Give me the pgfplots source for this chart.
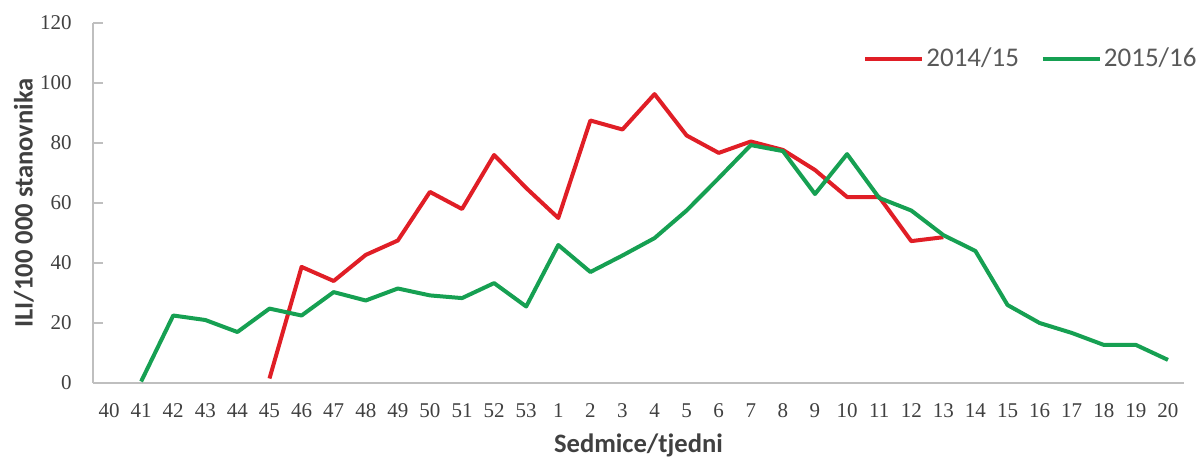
\documentclass[border=0pt]{standalone}
\usepackage{fontspec}
\setmainfont{Carlito}
\newfontfamily\tickfont{Liberation Serif}
\usepackage{pgfplots}
\pgfplotsset{compat=1.18}
\definecolor{redline}{RGB}{224,30,38}
\definecolor{greenline}{RGB}{22,160,82}
\definecolor{axisgray}{RGB}{191,191,191}
\definecolor{textgray}{RGB}{64,64,64}
\definecolor{leggray}{RGB}{89,89,89}
\begin{document}
\begin{tikzpicture}
\begin{axis}[
  scale only axis,
  width=545.5bp, height=180bp,
  xmin=-0.5, xmax=33.5,
  ymin=0, ymax=120,
  clip=false,
  axis x line*=bottom, axis y line*=left,
  axis line style={axisgray, line width=0.75bp, -},
  xtick={0,...,33},
  xticklabels={40,41,42,43,44,45,46,47,48,49,50,51,52,53,1,2,3,4,5,6,7,8,9,10,11,12,13,14,15,16,17,18,19,20},
  xtick style={draw=none},
  ytick={0,20,...,120},
  ytick style={axisgray, line width=0.6bp},
  tick align=inside,
  major tick length=5bp,
  /pgf/number format/assume math mode=true,
  xticklabel style={font=\tickfont\fontsize{10.5bp}{12bp}\selectfont, text=textgray, anchor=north, inner sep=0pt, yshift=-10bp},
  yticklabel style={font=\tickfont\fontsize{10.5bp}{12bp}\selectfont, text=textgray, anchor=east, inner sep=0pt, xshift=-10.5bp},
  xlabel={Sedmice/tjedni},
  ylabel={ILI/100 000 stanovnika},
  xlabel style={font=\bfseries\fontsize{13.3bp}{15bp}\selectfont, text=textgray, at={(axis description cs:0.5,0)}, anchor=base, yshift=-34.5bp},
  ylabel style={font=\bfseries\fontsize{13.3bp}{15bp}\selectfont, text=textgray, at={(axis description cs:0,0.5)}, anchor=center, yshift=34.5bp},
  legend columns=2,
  legend style={draw=none, fill=none, inner sep=0pt, at={(axis description cs:0.7058,0.9)}, anchor=west,
    font=\fontsize{13.5bp}{16bp}\selectfont, text=leggray,
    nodes={inner sep=1bp},
    /tikz/every even column/.append style={column sep=10bp}},
  legend image code/.code={\draw[#1, line width=2bp] (0bp,0bp) -- (28.5bp,0bp);},
  every axis plot/.append style={line width=2bp, line join=round},
]
\addplot[redline, mark=none] coordinates {
(5,1.5) (6,38.7) (7,34) (8,42.7) (9,47.5) (10,63.7) (11,58) (12,76) (13,65)
(14,55) (15,87.5) (16,84.5) (17,96.3) (18,82.5) (19,76.7) (20,80.5) (21,77.7)
(22,71) (23,62) (24,62) (25,47.3) (26,48.6)
};
\addlegendentry{2014/15}
\addplot[greenline, mark=none] coordinates {
(1,0.5) (2,22.5) (3,21) (4,17) (5,24.8) (6,22.5) (7,30.3) (8,27.5) (9,31.5)
(10,29.2) (11,28.3) (12,33.3) (13,25.5) (14,46) (15,37) (16,42.5) (17,48.3)
(18,57.5) (19,68.3) (20,79.3) (21,77.3) (22,63) (23,76.3) (24,61.7) (25,57.5)
(26,49.3) (27,44) (28,26) (29,20) (30,16.7) (31,12.7) (32,12.7) (33,7.7)
};
\addlegendentry{2015/16}
\end{axis}
\pgfresetboundingbox
\path[use as bounding box] (current axis.south west) ++(-46.5bp,-38.5bp) rectangle ++(598.5bp,230bp);
\end{tikzpicture}
\end{document}
